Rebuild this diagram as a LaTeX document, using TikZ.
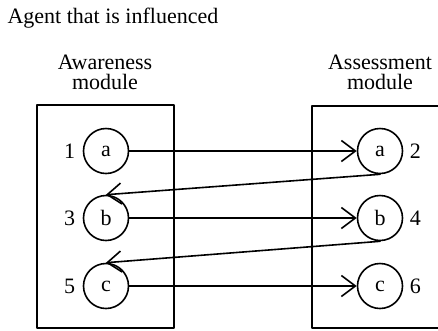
\documentclass[tikz,border=0pt]{standalone}
\usepackage{fontspec}
\setmainfont{Liberation Serif}
\usetikzlibrary{arrows.meta}

\begin{document}
\begin{tikzpicture}[x = 1pt, y = -1pt, line join = round, line cap = round,
  every node/.style = {font = \fontsize{22}{20}\selectfont},
  agent/.style = {draw, circle, line width = 1.6pt, minimum size = 45pt, inner sep = 0pt},
  link/.style = {line width = 1.6pt, -{Straight Barb[length = 14pt, width = 21pt, line width = 1.6pt]}}]
  \useasboundingbox (0, 0) rectangle (438, 330);

  \node[anchor = west] (title) at (4, 18) {Agent that is influenced};
  \node[align = center] (aware) at (105, 72) {Awareness\\module};
  \node[align = center] (assess) at (380, 72) {Assessment\\module};

  % modules
  \draw[line width = 1.6pt] (37, 105) rectangle (174, 328);
  \draw[line width = 1.6pt] (440, 106) -- (312, 106) -- (312, 328) -- (440, 328);

  % agents
  \node[agent] (a1) at (106, 151) {a};
  \node[agent] (b3) at (106, 218) {b};
  \node[agent] (c5) at (106, 286) {c};
  \node[agent] (a2) at (380, 151) {a};
  \node[agent] (b4) at (380, 218) {b};
  \node[agent] (c6) at (380, 286) {c};

  \node[left = 4pt] (n1) at (a1.west) {1};
  \node[left = 4pt] (n3) at (b3.west) {3};
  \node[left = 4pt] (n5) at (c5.west) {5};
  \node[right = 3pt] (n2) at (a2.east) {2};
  \node[right = 3pt] (n4) at (b4.east) {4};
  \node[right = 3pt] (n6) at (c6.east) {6};

  \draw[link] (a1) -- (a2);
  \draw[link] (b3) -- (b4);
  \draw[link] (c5) -- (c6);
  \draw[link] (a2.south) -- (b3.north);
  \draw[link] (b4.south) -- (c5.north);
\end{tikzpicture}
\end{document}
